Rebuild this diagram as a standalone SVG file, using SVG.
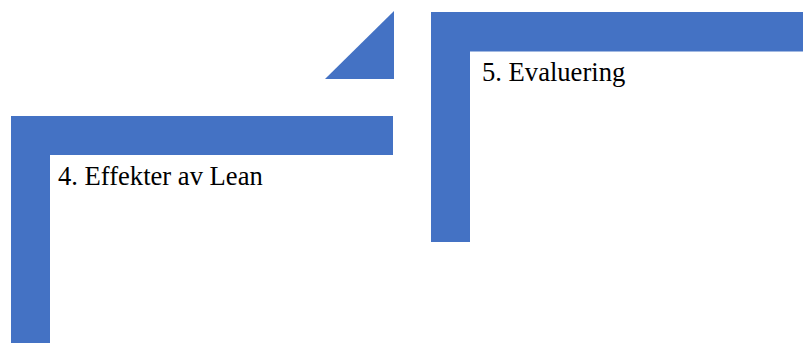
<svg xmlns="http://www.w3.org/2000/svg" width="803" height="343" viewBox="0 0 803 343">
<style>
.shape{fill:#4472C4;}
.lbl{font-family:"Liberation Serif","Times New Roman",serif;font-size:26.6px;fill:#000;}
</style>
<rect width="803" height="343" fill="#fff"/>
<g id="node4">
<path class="shape" d="M11,116 H393 V155 H50 V343 H11 Z"/>
<text class="lbl" x="58" y="185">4. Effekter av Lean</text>
</g>
<g id="connectors">
<polygon class="shape" points="325,79 394,11 394,79"/>
</g>
<g id="node5">
<path class="shape" d="M431,12 H803 V51.5 H470 V242 H431 Z"/>
<text class="lbl" x="482" y="81">5. Evaluering</text>
</g>
</svg>
